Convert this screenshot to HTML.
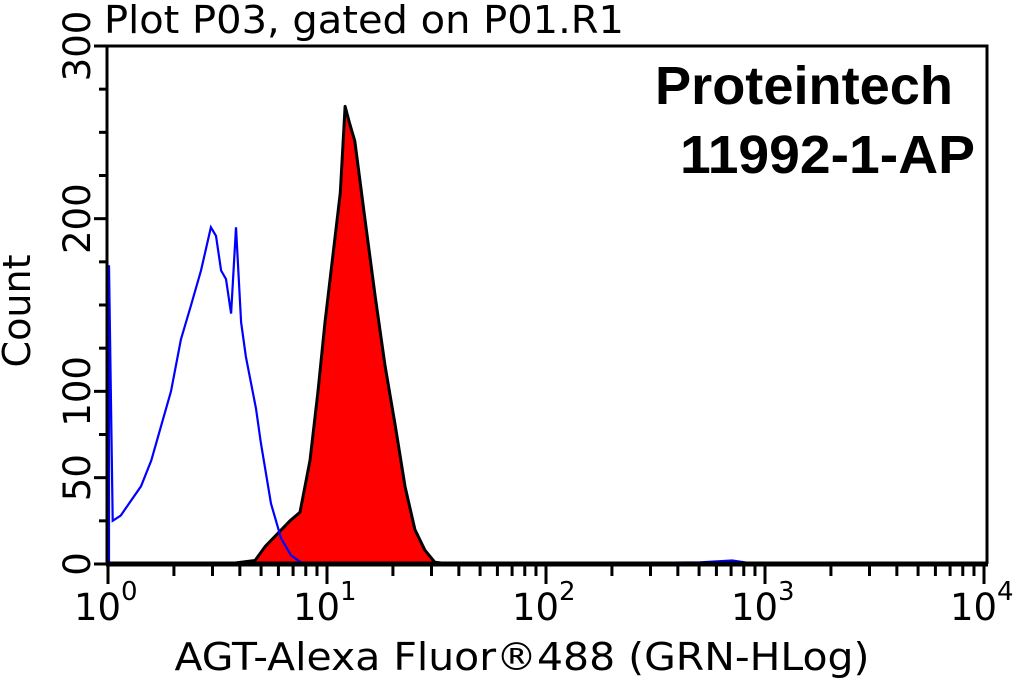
<!DOCTYPE html>
<html><head><meta charset="utf-8"><style>
body{margin:0;background:#fff;width:1015px;height:683px;overflow:hidden}
svg text{font-family:"DejaVu Sans","Liberation Sans",sans-serif}
</style></head><body>
<svg id="chart" width="1015" height="683" xmlns="http://www.w3.org/2000/svg">
<text x="104" y="33" font-size="38" textLength="520" lengthAdjust="spacingAndGlyphs">Plot P03, gated on P01.R1</text>
<text x="953" y="104" font-size="54" font-weight="bold" text-anchor="end" textLength="298" lengthAdjust="spacingAndGlyphs" style="font-family:'Liberation Sans',sans-serif">Proteintech</text>
<text x="975" y="173" font-size="54" font-weight="bold" text-anchor="end" textLength="295" lengthAdjust="spacingAndGlyphs" style="font-family:'Liberation Sans',sans-serif">11992-1-AP</text>
<text transform="translate(30,311) rotate(-90)" font-size="38" text-anchor="middle" textLength="113" lengthAdjust="spacingAndGlyphs">Count</text>
<text x="522" y="670" font-size="38" text-anchor="middle" textLength="695" lengthAdjust="spacingAndGlyphs">AGT-Alexa Fluor®488 (GRN-HLog)</text>
<g id="marks"></g>
<g id="axes"></g>
</svg>
<script>
const blueX=[1.0,1.0,1.04,1.13,1.40,1.56,1.73,1.92,2.13,2.37,2.63,2.92,3.08,3.25,3.42,3.61,3.80,4.01,4.22,4.69,4.94,5.49,6.10,6.78,7.53,9,20,100,500,700,900];
const blueY=[0,173,25,28,45,60,80,100,130,150,170,195,190,170,165,145,195,140,120,90,70,35,15,5,1,0,0,0,1,2,0];
const redX=[3.5,4.01,4.69,5.21,6.78,7.53,8.36,9.1,9.79,10.9,11.5,12.1,12.7,13.4,14.9,16.6,18.4,20.5,22.7,25.2,28.0,31.1,36.4,100];
const redY=[0,1,2,10,25,30,60,100,140,190,215,265,255,245,200,155,115,80,45,20,8,1,0,0];
const yTicks=[0,50,100,200,300];
const yMinor=[25,75,125,150,175,225,250,275];
const xDecades=[0,1,2,3,4];
const L=108,R=984,T=46,B=564,DEC=(R-L)/4;
const sx=v=>L+Math.log10(v)*DEC;
const sy=c=>B-(B-T)*c/300;
const NS="http://www.w3.org/2000/svg";
function mk(t,a,p){const e=document.createElementNS(NS,t);for(const k in a)e.setAttribute(k,a[k]);p.appendChild(e);return e;}
const marks=document.getElementById('marks'),axes=document.getElementById('axes');
let d='M'+sx(redX[0])+','+B;
redX.forEach((v,i)=>{d+=' L'+sx(v).toFixed(1)+','+sy(redY[i]).toFixed(1);});
d+=' L'+sx(redX[redX.length-1])+','+B+' Z';
const rp=mk('path',{d:d,fill:'#ff0000',stroke:'#000','stroke-width':3,'stroke-linejoin':'round'},marks);


let bd='';
blueX.forEach((v,i)=>{bd+=(i?' L':'M')+(sx(v)+1).toFixed(1)+','+sy(blueY[i]).toFixed(1);});
const bp=mk('path',{d:bd,fill:'none',stroke:'#0000ff','stroke-width':2.2},marks);


const fr=mk('path',{d:`M${L-1},${B} L${L-1},${T} L${R+3},${T} L${R+3},${B}`,fill:'none',stroke:'#000','stroke-width':3},axes);


const xa=mk('line',{x1:L-2,y1:B,x2:R+4,y2:B,stroke:'#000','stroke-width':5},axes);


yTicks.forEach(v=>{
 mk('line',{x1:L-14,y1:sy(v),x2:L,y2:sy(v),stroke:'#000','stroke-width':3},axes);
 const t=mk('text',{transform:`translate(${L-18},${sy(v)}) rotate(-90)`,'font-size':37,'text-anchor':'middle'},axes);
 t.textContent=v;
 
 
});
yMinor.forEach(v=>mk('line',{x1:L-9,y1:sy(v),x2:L,y2:sy(v),stroke:'#000','stroke-width':3},axes));
xDecades.forEach(p=>{
 const x=sx(Math.pow(10,p));
 mk('line',{x1:x,y1:B,x2:x,y2:B+20,stroke:'#000','stroke-width':3},axes);
 if(p<4)for(let m=2;m<10;m++){const xm=sx(m*Math.pow(10,p));mk('line',{x1:xm,y1:B,x2:xm,y2:B+12,stroke:'#000','stroke-width':3},axes);}
 const t=mk('text',{x:x-34,y:B+56,'font-size':37},axes);
 t.textContent='10';
 
 
 const s=mk('text',{x:x+13,y:B+36,'font-size':26},axes);
 s.textContent=p;
});
</script>
</body></html>
